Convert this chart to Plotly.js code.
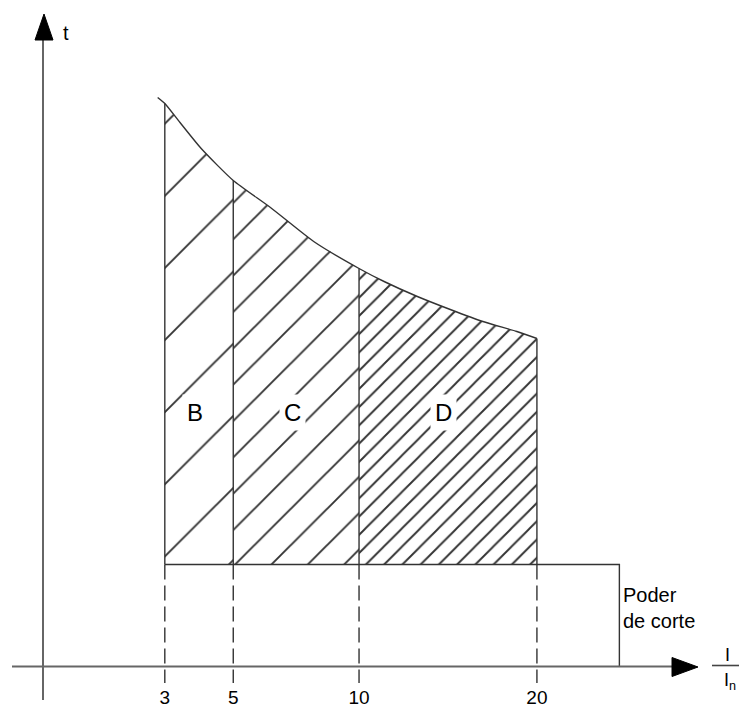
<!DOCTYPE html>
<html><head><meta charset="utf-8">
<script src="https://cdn.plot.ly/plotly-3.0.1.min.js"></script>
<style>html,body{margin:0;padding:0;background:#fff}#chart{width:739px;height:706px}</style>
</head><body><div id="chart"></div>
<script>
// ---- data ----
const tickCurrents = [3, 5, 10, 20];
const tickLabels = ['3', '5', '10', '20'];
const curveI = [2.82, 3, 3.4, 4, 5, 6.3, 8, 10, 11.2, 12.9, 14.7, 16.6, 18.7, 20];
const curveT = [5.69, 5.63, 5.44, 5.18, 4.86, 4.59, 4.25, 3.98, 3.85, 3.70, 3.57, 3.45, 3.35, 3.28];
const curveTypes = ['B', 'C', 'D'];
const typeStart = [3, 5, 10];
const typeEnd = [5, 10, 20];
const instantT = 1.02;      // lower limit of the magnetic trip zone
const breakingI = 25.8;     // breaking capacity ("poder de corte")
const cutLabel = 'Poder<br>de corte';

// ---- drawing ----
const X = i => Math.sqrt(i);            // schematic current scale
const W = 739, H = 706, MB = 22, PH = H - MB;
const PX = p => p / W;
const PY = p => (PH - p) / PH;
const FONT = 'Liberation Sans, Arial, sans-serif';
const INK = '#333';
const hatchSize = [51, 25.7, 12.9];

function tAt(i) {
  for (let k = 0; k < curveI.length - 1; k++) {
    if (i >= curveI[k] && i <= curveI[k + 1]) {
      const f = (i - curveI[k]) / (curveI[k + 1] - curveI[k]);
      return curveT[k] + f * (curveT[k + 1] - curveT[k]);
    }
  }
  return curveT[curveT.length - 1];
}

const traces = [];
curveTypes.forEach((name, k) => {
  const a = typeStart[k], b = typeEnd[k];
  const xs = [], ys = [];
  curveI.forEach((i, j) => { if (i >= a && i <= b) { xs.push(X(i)); ys.push(curveT[j]); } });
  xs.push(X(b), X(a)); ys.push(instantT, instantT);
  traces.push({
    type: 'scatter', mode: 'lines', x: xs, y: ys, fill: 'toself',
    line: {width: 0, color: 'rgba(0,0,0,0)'},
    fillcolor: 'white',
    fillpattern: {shape: '/', size: hatchSize[k], solidity: 1.35 * Math.SQRT2 / hatchSize[k], fgcolor: INK, bgcolor: 'white'},
    hoverinfo: 'skip', showlegend: false
  });
});

// curve
traces.push({type: 'scatter', mode: 'lines', x: curveI.map(X), y: curveT,
  line: {color: INK, width: 1.4, shape: 'spline', smoothing: 0.6}, hoverinfo: 'skip', showlegend: false});

// vertical boundaries
const vx = [], vy = [];
tickCurrents.forEach(i => { vx.push(X(i), X(i), null); vy.push(instantT, tAt(i), null); });
traces.push({type: 'scatter', mode: 'lines', x: vx, y: vy,
  line: {color: INK, width: 1.4}, hoverinfo: 'skip', showlegend: false});

// bottom limit and breaking capacity
traces.push({type: 'scatter', mode: 'lines',
  x: [X(typeStart[0]), X(breakingI), X(breakingI)], y: [instantT, instantT, 0],
  line: {color: INK, width: 1.4}, hoverinfo: 'skip', showlegend: false});

// dashed projections
const dx = [], dy = [];
tickCurrents.forEach(i => { dx.push(X(i), X(i), null); dy.push(instantT, -0.165, null); });
traces.push({type: 'scatter', mode: 'lines', x: dx, y: dy,
  line: {color: INK, width: 1.4, dash: '15px,6px'}, hoverinfo: 'skip', showlegend: false});

const shapes = [
  {type: 'line', xref: 'paper', yref: 'paper', x0: PX(43), x1: PX(43), y0: PY(38), y1: PY(700), line: {color: '#666', width: 2}},
  {type: 'line', xref: 'paper', yref: 'paper', x0: PX(12), x1: PX(675), y0: PY(666.5), y1: PY(666.5), line: {color: '#666', width: 2}},
  {type: 'path', xref: 'paper', yref: 'paper', path: `M${PX(44)},${PY(14)} L${PX(35)},${PY(40)} L${PX(53)},${PY(40)} Z`, fillcolor: 'black', line: {color: 'black', width: 1}},
  {type: 'path', xref: 'paper', yref: 'paper', path: `M${PX(698)},${PY(667)} L${PX(672)},${PY(657.5)} L${PX(672)},${PY(676.5)} Z`, fillcolor: 'black', line: {color: 'black', width: 1}},
  {type: 'line', xref: 'paper', yref: 'paper', x0: PX(712), x1: PX(739), y0: PY(665.5), y1: PY(665.5), line: {color: '#444', width: 1.6}}
];

const ann = (px, py, text, size, extra) => Object.assign({xref: 'paper', yref: 'paper', x: PX(px), y: PY(py),
  xanchor: 'center', yanchor: 'middle', text: text, showarrow: false,
  font: {family: FONT, size: size, color: 'black'}}, extra || {});

const annotations = [
  ann(66, 33, 't', 20),
  ann(621, 608, cutLabel, 20, {xanchor: 'left', align: 'left'}),
  ann(727.5, 655, 'I', 18),
  ann(730, 681, 'I<sub>n</sub>', 18)
];
curveTypes.forEach((name, k) => {
  annotations.push({x: (X(typeStart[k]) + X(typeEnd[k])) / 2 - 0.03, y: 2.545, xanchor: 'center', yanchor: 'middle',
    text: name, showarrow: false, bgcolor: 'white', borderpad: 4, font: {family: FONT, size: 24, color: 'black'}});
});

const layout = {
  width: W, height: H,
  margin: {l: 0, r: 0, t: 0, b: MB, pad: 0},
  paper_bgcolor: 'white', plot_bgcolor: 'white',
  showlegend: false,
  xaxis: {range: [0.5184, 5.9602], showgrid: false, zeroline: false, showline: false, ticks: '',
    tickvals: tickCurrents.map(X), ticktext: tickLabels, tickfont: {family: FONT, size: 19, color: 'black'},
    ticklabelstandoff: 0, fixedrange: true},
  yaxis: {range: [-0.175, 6.665], visible: false, fixedrange: true},
  shapes: shapes,
  annotations: annotations
};

Plotly.newPlot('chart', traces, layout, {displayModeBar: false, staticPlot: true});
</script>
</body></html>
